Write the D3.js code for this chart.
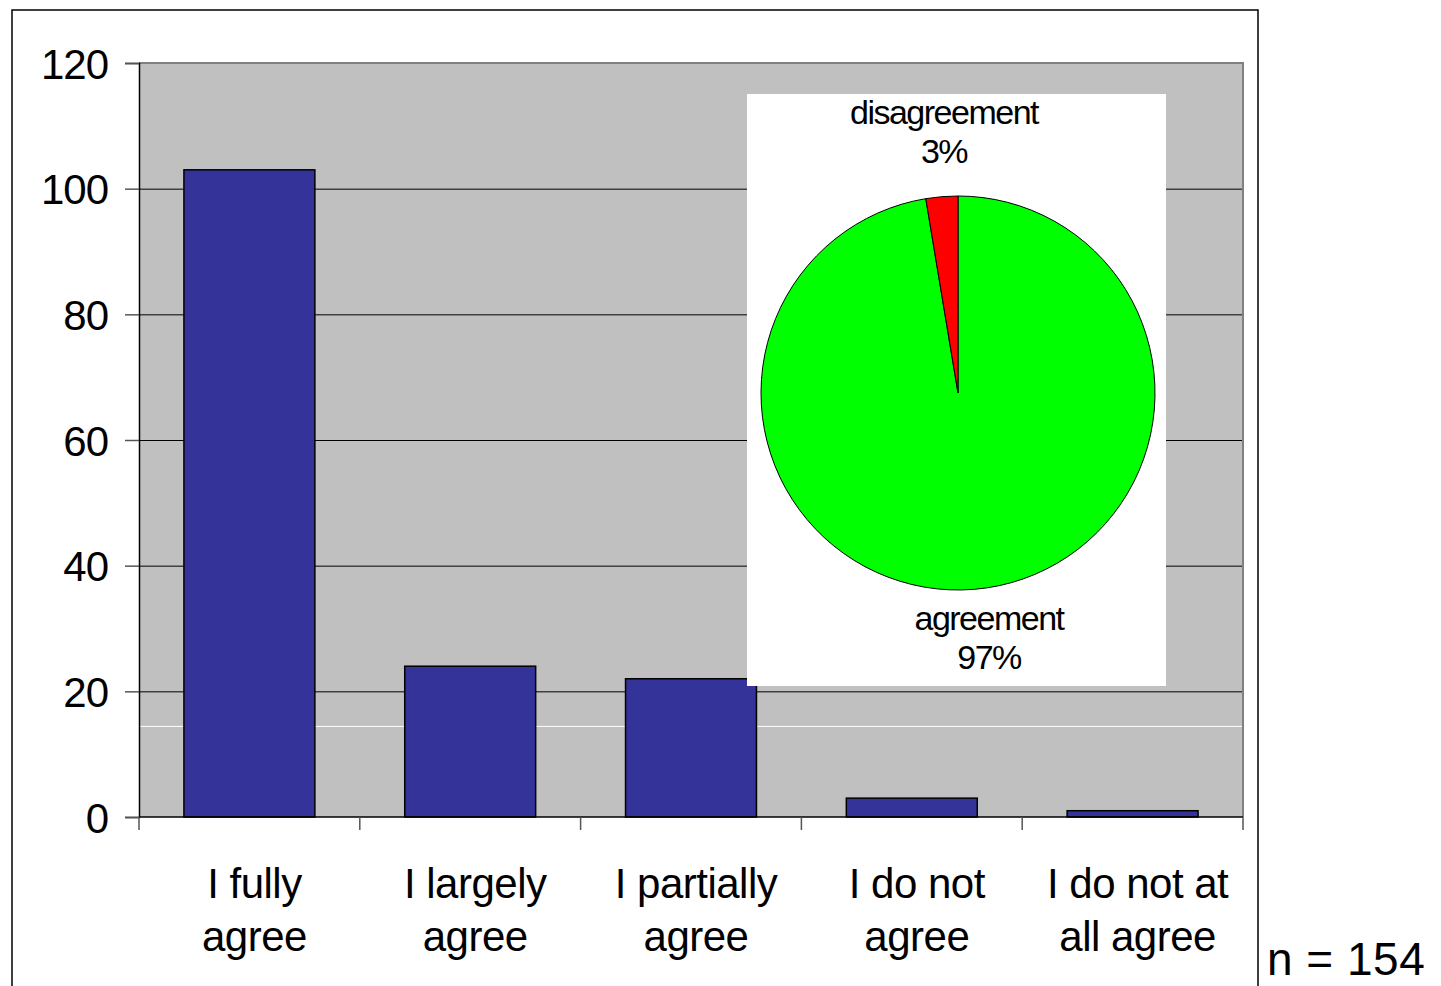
<!DOCTYPE html>
<html>
<head>
<meta charset="utf-8">
<script src="https://cdn.jsdelivr.net/npm/d3@7"></script>
<style>
  body { margin: 0; background: #fff; }
  text { font-family: "Liberation Sans", Arial, sans-serif; fill: #000; }
</style>
</head>
<body>
<div id="chart"></div>
<script>
// survey answers
const categories = [["I fully", "agree"], ["I largely", "agree"], ["I partially", "agree"], ["I do not", "agree"], ["I do not at", "all agree"]];
const counts = [103, 24, 22, 3, 1];
const yTicks = [0, 20, 40, 60, 80, 100, 120];
const pieNames = ["agreement", "disagreement"];
const whiteLine = 14.5;   // odd white rule in the original
const nLabel = "n = 154";

const width = 1441;
const height = 986;
const margin = {left: 139, right: 198, top: 63, bottom: 169};

const svg = d3.select("#chart")
  .append("svg")
  .attr("width", width)
  .attr("height", height);

// outer frame
svg.append("rect")
  .attr("x", 12).attr("y", 10)
  .attr("width", 1246).attr("height", 1000)
  .attr("fill", "none").attr("stroke", "#000").attr("stroke-width", 1.5);

const x = d3.scaleBand()
  .domain(d3.range(counts.length))
  .range([margin.left, width - margin.right]);

const y = d3.scaleLinear()
  .domain([0, 120])
  .range([height - margin.bottom, margin.top]);

const barW = x.bandwidth() * 0.593;

// plot background
svg.append("rect")
  .attr("x", margin.left).attr("y", margin.top)
  .attr("width", width - margin.right - margin.left)
  .attr("height", y(0) - margin.top)
  .attr("fill", "#c0c0c0");

// gridlines
svg.append("g")
  .selectAll("line")
  .data(yTicks.filter(d => d > 0 && d < 120))
  .enter().append("line")
    .attr("x1", margin.left).attr("x2", width - margin.right)
    .attr("y1", d => y(d) + 0.5).attr("y2", d => y(d) + 0.5)
    .attr("stroke", "#000").attr("stroke-width", 1);

svg.append("line")
  .attr("x1", margin.left).attr("x2", width - margin.right)
  .attr("y1", y(whiteLine) + 0.5).attr("y2", y(whiteLine) + 0.5)
  .attr("stroke", "#fff").attr("stroke-width", 1);

// top and right border of plot area
svg.append("path")
  .attr("d", `M${margin.left},${y(120)}H${width - margin.right}V${y(0)}`)
  .attr("fill", "none").attr("stroke", "#808080").attr("stroke-width", 2);

// bars
svg.selectAll(".bar")
  .data(counts)
  .enter()
  .append("rect")
    .attr("class", "bar")
    .attr("x", (d, i) => x(i) + (x.bandwidth() - barW) / 2)
    .attr("y", d => y(d))
    .attr("width", barW)
    .attr("height", d => y(0) - y(d))
    .attr("fill", "#333399")
    .attr("stroke", "#000")
    .attr("stroke-width", 1.5);

// y axis
const yAxis = svg.append("g")
  .attr("transform", `translate(${margin.left},0)`)
  .call(d3.axisLeft(y).tickValues(yTicks).tickSize(14).tickPadding(17));
yAxis.select(".domain").attr("stroke", "#000").attr("stroke-width", 1.5);
yAxis.selectAll(".tick line").attr("stroke", "#555").attr("stroke-width", 1.5);
yAxis.selectAll(".tick text")
  .attr("font-size", "42px")
  .attr("font-family", "Liberation Sans, Arial, sans-serif")
  .attr("letter-spacing", "-1px")
  .attr("dy", "0.36em");

// x axis: ticks at category boundaries
const bounds = d3.range(counts.length + 1).map(i => margin.left + i * x.step());
svg.append("line")
  .attr("x1", margin.left).attr("x2", width - margin.right)
  .attr("y1", y(0)).attr("y2", y(0))
  .attr("stroke", "#000").attr("stroke-width", 1.5);
svg.append("g")
  .selectAll("line")
  .data(bounds)
  .enter().append("line")
    .attr("x1", d => d).attr("x2", d => d)
    .attr("y1", y(0)).attr("y2", y(0) + 13)
    .attr("stroke", "#555").attr("stroke-width", 1.5);

const labelX = (d, i) => x(i) + x.bandwidth() / 2 + 5;
const xl = svg.append("g")
  .selectAll("text")
  .data(categories)
  .enter().append("text")
    .attr("x", labelX)
    .attr("y", 898)
    .attr("text-anchor", "middle")
    .attr("font-size", "42px")
    .attr("letter-spacing", "-0.5px");
xl.append("tspan").attr("x", labelX).text(d => d[0]);
xl.append("tspan").attr("x", labelX).attr("dy", 53).text(d => d[1]);

// inset pie: agreement = first three answers, disagreement = last two
const agreeN = d3.sum(counts.slice(0, 3));
const disagreeN = d3.sum(counts.slice(3));
const pieData = [agreeN, disagreeN];
const total = d3.sum(pieData);

svg.append("rect")
  .attr("x", 747).attr("y", 94)
  .attr("width", 419).attr("height", 592)
  .attr("fill", "#fff");

const cx = 958, cy = 393, r = 197;
const arcs = d3.pie().sort(null).value(d => d)
  .startAngle(0).endAngle(2 * Math.PI)(pieData);
const arc = d3.arc().innerRadius(0).outerRadius(r);

svg.append("g")
  .attr("transform", `translate(${cx},${cy})`)
  .selectAll("path")
  .data(arcs)
  .enter().append("path")
    .attr("d", arc)
    .attr("fill", (d, i) => i === 0 ? "#00ff00" : "#ff0000")
    .attr("stroke", "#000")
    .attr("stroke-width", 1);

const pct = v => Math.round(v / total * 100) + "%";
const pieLabels = [
  {name: pieNames[1], v: disagreeN, x: 944, y: 124},
  {name: pieNames[0], v: agreeN, x: 989, y: 630}
];
const pl = svg.append("g")
  .selectAll("text")
  .data(pieLabels)
  .enter().append("text")
    .attr("x", d => d.x).attr("y", d => d.y)
    .attr("text-anchor", "middle")
    .attr("font-size", "34px")
    .attr("letter-spacing", "-1.5px");
pl.append("tspan").attr("x", d => d.x).text(d => d.name);
pl.append("tspan").attr("x", d => d.x).attr("dy", 39).text(d => pct(d.v));

svg.append("text")
  .attr("x", 1267).attr("y", 975)
  .attr("font-size", "46px")
  .attr("letter-spacing", "0.5px")
  .text(nLabel);
</script>
</body>
</html>
